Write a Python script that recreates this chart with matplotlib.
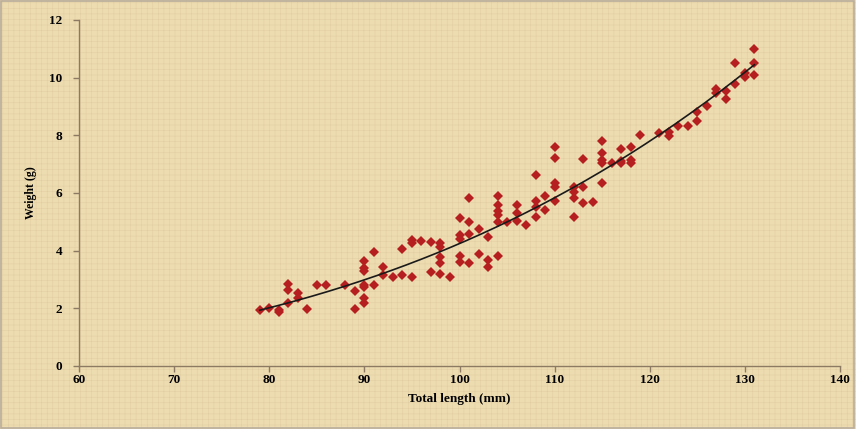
import numpy as np
import matplotlib.pyplot as plt
from matplotlib.patches import Rectangle

# total length (mm) and weight (g)
length = [79, 80, 81, 81, 82, 82, 82, 83, 83, 84, 85, 86, 88, 89, 89,
          90, 90, 90, 90, 90, 90, 90, 91, 91, 92, 92, 93, 94, 94,
          95, 95, 95, 96, 97, 97, 98, 98, 98, 98, 98, 99,
          100, 100, 100, 100, 100, 101, 101, 101, 101, 102, 102, 103, 103, 103,
          104, 104, 104, 104, 104, 104, 105, 106, 106, 106, 107, 108, 108, 108, 108,
          109, 109, 110, 110, 110, 110, 110, 112, 112, 112, 112, 113, 113, 113, 114,
          115, 115, 115, 115, 115, 116, 117, 117, 117, 118, 118, 118, 119,
          121, 122, 122, 123, 124, 125, 125, 126, 127, 127, 128, 128,
          129, 129, 130, 130, 131, 131, 131]
weight = [1.94, 2.02, 1.94, 1.88, 2.17, 2.64, 2.83, 2.52, 2.35, 1.98, 2.81, 2.81, 2.81, 2.61, 1.98,
          3.65, 3.39, 3.30, 2.81, 2.73, 2.35, 2.20, 3.94, 2.81, 3.42, 3.16, 3.10, 4.05, 3.16,
          4.37, 4.27, 3.10, 4.34, 4.29, 3.27, 4.28, 4.14, 3.79, 3.58, 3.20, 3.08,
          5.12, 4.54, 4.39, 3.82, 3.60, 5.82, 5.00, 4.58, 3.58, 4.74, 3.88, 4.46, 3.68, 3.42,
          5.90, 5.58, 5.39, 5.24, 5.00, 3.82, 5.00, 5.58, 5.30, 5.04, 4.89, 6.62, 5.73, 5.50, 5.16,
          5.90, 5.41, 7.61, 7.20, 6.34, 6.20, 5.72, 6.20, 6.05, 5.82, 5.16, 7.17, 6.20, 5.66, 5.70,
          7.81, 7.40, 7.15, 7.03, 6.34, 7.05, 7.52, 7.12, 7.03, 7.61, 7.15, 7.03, 8.01,
          8.07, 8.13, 7.98, 8.32, 8.32, 8.82, 8.50, 9.02, 9.60, 9.46, 9.55, 9.25,
          10.50, 9.77, 10.15, 10.01, 10.98, 10.50, 10.09]

x_ticks = [60, 70, 80, 90, 100, 110, 120, 130, 140]
y_ticks = [0, 2, 4, 6, 8, 10, 12]

bg = '#EEDCB1'
axis_col = '#8C7B62'

# power trend line W = a * L^b, fitted in log space
b, log_a = np.polyfit(np.log(length), np.log(weight), 1)
xs = np.linspace(min(length), max(length), 200)
ys = np.exp(log_a) * xs ** b

plt.rcParams['hatch.linewidth'] = 0.4
plt.rcParams['hatch.color'] = '#E2CEA3'

fig = plt.figure(figsize=(8.56, 4.29), dpi=100, facecolor=bg)
# faint canvas-like weave behind everything
fig.patches.append(Rectangle((0, 0), 1, 1, transform=fig.transFigure,
                             facecolor=bg, edgecolor='#E2CEA3', linewidth=0,
                             hatch='+++', zorder=-10))
fig.patches.append(Rectangle((0.001, 0.002), 0.997, 0.995, transform=fig.transFigure,
                             facecolor='none', edgecolor='#B9AE9C', linewidth=1.2, zorder=-9))

ax = fig.add_axes([0.0923, 0.1469, 0.889, 0.8065])
ax.patch.set_alpha(0)

ax.plot(length, weight, 'D', color='#B51F1F', markersize=4.8, markeredgewidth=0, zorder=3)
ax.plot(xs, ys, color='#1a1a1a', linewidth=1.2, zorder=4)

ax.set_xlim(60, 140)
ax.set_ylim(0, 12)
ax.set_xticks(x_ticks)
ax.set_yticks(y_ticks)

for s in ['top', 'right']:
    ax.spines[s].set_visible(False)
for s in ['left', 'bottom']:
    ax.spines[s].set_color(axis_col)
    ax.spines[s].set_linewidth(1.0)
ax.tick_params(direction='out', length=4, width=1, color=axis_col)
ax.tick_params(axis='x', pad=2)
ax.tick_params(axis='y', pad=8)

for lab in ax.get_xticklabels() + ax.get_yticklabels():
    lab.set_fontfamily('Liberation Serif')
    lab.set_fontweight('bold')
    lab.set_fontsize(9.5)

font = {'family': 'Liberation Serif', 'weight': 'bold', 'size': 9.5}
ax.set_xlabel('Total length (mm)', fontdict=font, labelpad=5)
ax.set_ylabel('Weight (g)', fontdict=dict(font, size=8.5), labelpad=9)

fig.savefig('out.png', dpi=100, facecolor=bg)
